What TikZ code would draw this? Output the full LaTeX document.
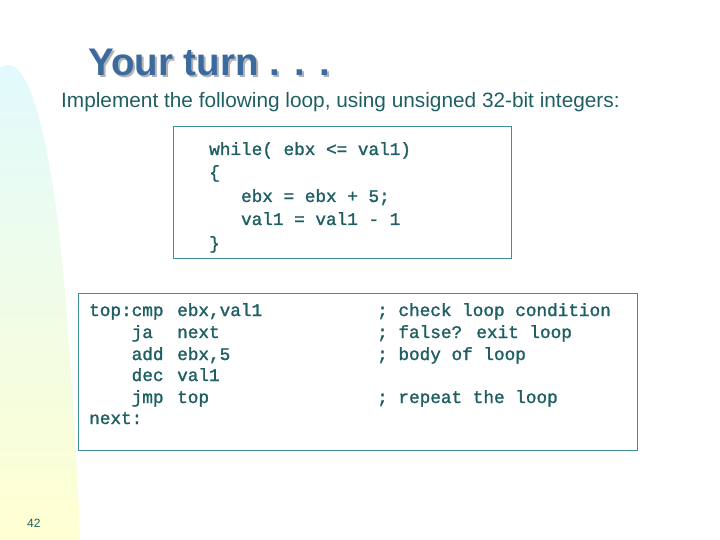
\documentclass[tikz,border=0pt]{standalone}
\usepackage{fontspec}
\setmainfont{Liberation Sans}
\newfontfamily\codefont{Liberation Mono}[FakeBold=1.5]
\begin{document}
\begin{tikzpicture}[x=1pt,y=-1pt,
  code/.style={anchor=base west,inner sep=0,text=codec,font=\codefont\fontsize{17.7}{20}\selectfont},
  box/.style={draw=boxc,line width=0.8pt}]
\definecolor{titlec}{HTML}{3A6A9E}
\definecolor{codec}{HTML}{1F5F63}
\definecolor{boxc}{HTML}{3E8E9C}
\useasboundingbox (0,0) rectangle (720,540);
\shade[top color=blue!18!cyan!12,bottom color=yellow!18] (0,68) .. controls (30,45) and (55,150) .. (68,330) .. controls (74,420) and (78,480) .. (80,540) -- (0,540) -- cycle;
\node[anchor=base west,inner sep=0,text=gray!60,font=\bfseries\fontsize{38.5}{42}\selectfont] (ts) at (90,78) {Your turn . . .};
\node[anchor=base west,inner sep=0,text=titlec,font=\bfseries\fontsize{38.5}{42}\selectfont] (t) at (88,76) {Your turn . . .};
\node[anchor=base west,inner sep=0,text=codec,font=\fontsize{20.8}{24}\selectfont] (sub) at (61,108) {Implement the following loop, using unsigned 32-bit integers:};
\node[box,minimum width=338,minimum height=132,anchor=north west,inner sep=0] (b1) at (173,126) {};
\node[box,minimum width=559,minimum height=157,anchor=north west,inner sep=0] (b2) at (78,293) {};
\node[code] (w1) at (209,155) {while( ebx <= val1)};
\node[code] (w2) at (209,178) {\{};
\node[code] (w3) at (209,202) {\ \ \ ebx = ebx + 5;};
\node[code] (w4) at (209,225) {\ \ \ val1 = val1 - 1};
\node[code] (w5) at (209,249) {\}};
\node[code] (c1) at (89,316) {top:cmp};
\node[code] (c2) at (89,338) {\ \ \ \ ja};
\node[code] (c3) at (89,360) {\ \ \ \ add};
\node[code] (c4) at (89,381) {\ \ \ \ dec};
\node[code] (c5) at (89,403) {\ \ \ \ jmp};
\node[code] (c6) at (89,424) {next:};
\node[code] (o1) at (177,316) {ebx,val1};
\node[code] (o2) at (177,338) {next};
\node[code] (o3) at (177,360) {ebx,5};
\node[code] (o4) at (177,381) {val1};
\node[code] (o5) at (177,403) {top};
\node[code] (m1) at (377,316) {; check loop condition};
\node[code] (m2) at (377,338) {; false? exit loop};
\node[code] (m3) at (377,360) {; body of loop};
\node[code] (m5) at (377,403) {; repeat the loop};
\node[anchor=base west,inner sep=0,text=codec,font=\fontsize{12}{14}\selectfont] (pg) at (27,527) {42};
\end{tikzpicture}
\end{document}
